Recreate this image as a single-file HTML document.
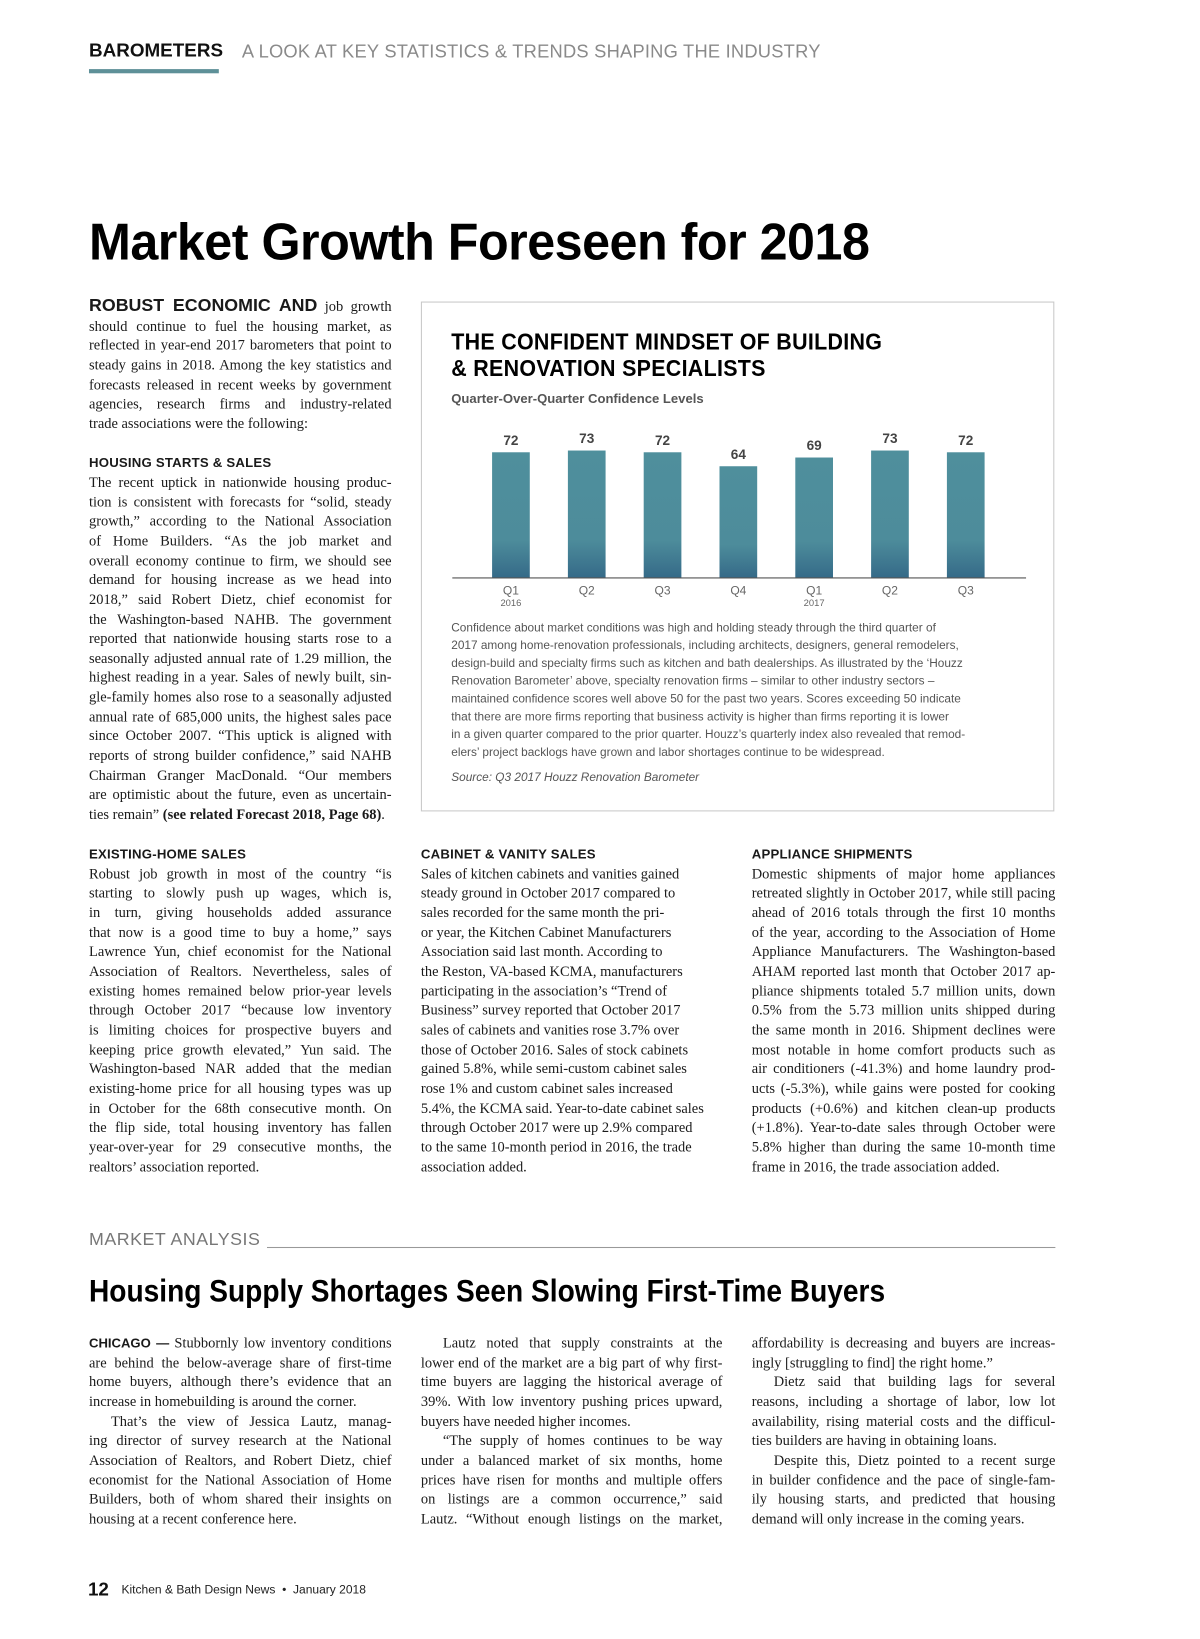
<!DOCTYPE html>
<html><head><meta charset="utf-8"><style>
html,body{margin:0;padding:0;background:#fff;}
body{width:1200px;height:1639px;overflow:hidden;position:relative;}
#page{position:absolute;left:0;top:0;width:1146px;height:1565px;transform:scale(1.047);transform-origin:0 0;}
.abs{position:absolute;white-space:nowrap;}
.col{position:absolute;font-family:"Liberation Serif",serif;font-size:13.8px;line-height:18.65px;color:#1a1a1a;}
.col div{white-space:nowrap;text-align:justify;text-align-last:justify;box-sizing:border-box;}
.col div.l{text-align-last:left;}
.col div.i{padding-left:21px;}
.col div.h{font-family:"Liberation Sans",sans-serif;font-weight:bold;font-size:12.6px;text-align-last:left;letter-spacing:0.2px;}
.sb{font-family:"Liberation Sans",sans-serif;font-weight:bold;}
.cap{position:absolute;left:431px;top:592px;font-family:"Liberation Sans",sans-serif;font-size:11.3px;line-height:17px;color:#555;}
.cap div{white-space:nowrap;}
</style></head><body>
<div id="page">

<div class="abs" style="left:85px;top:38px;font-family:'Liberation Sans',sans-serif;font-weight:bold;font-size:18px;color:#111;">BAROMETERS</div>
<div class="abs" style="left:85px;top:66px;width:124px;height:4px;background:#5e9098;"></div>
<div class="abs" style="left:231px;top:39px;font-family:'Liberation Sans',sans-serif;font-size:17.5px;color:#8a8a8a;letter-spacing:0.2px;">A LOOK AT KEY STATISTICS &amp; TRENDS SHAPING THE INDUSTRY</div>

<div class="abs" style="left:85px;top:202px;font-family:'Liberation Sans',sans-serif;font-weight:bold;font-size:50px;color:#000;transform:scaleX(0.96);transform-origin:0 0;letter-spacing:-0.5px;">Market Growth Foreseen for 2018</div>

<div class="col" style="left:85px;top:283px;width:289px;">
<div><span class="sb" style="font-size:17px;">ROBUST ECONOMIC AND</span> job growth</div>
<div>should continue to fuel the housing market, as</div>
<div>reflected in year-end 2017 barometers that point to</div>
<div>steady gains in 2018. Among the key statistics and</div>
<div>forecasts released in recent weeks by government</div>
<div>agencies, research firms and industry-related</div>
<div class="l">trade associations were the following:</div>
<div>&nbsp;</div>
<div class="h">HOUSING STARTS &amp; SALES</div>
<div>The recent uptick in nationwide housing produc-</div>
<div>tion is consistent with forecasts for “solid, steady</div>
<div>growth,” according to the National Association</div>
<div>of Home Builders. “As the job market and</div>
<div>overall economy continue to firm, we should see</div>
<div>demand for housing increase as we head into</div>
<div>2018,” said Robert Dietz, chief economist for</div>
<div>the Washington-based NAHB. The government</div>
<div>reported that nationwide housing starts rose to a</div>
<div>seasonally adjusted annual rate of 1.29 million, the</div>
<div>highest reading in a year. Sales of newly built, sin-</div>
<div>gle-family homes also rose to a seasonally adjusted</div>
<div>annual rate of 685,000 units, the highest sales pace</div>
<div>since October 2007. “This uptick is aligned with</div>
<div>reports of strong builder confidence,” said NAHB</div>
<div>Chairman Granger MacDonald. “Our members</div>
<div>are optimistic about the future, even as uncertain-</div>
<div class="l">ties remain” <b>(see related Forecast 2018, Page 68)</b>.</div>
</div>

<div class="abs" style="left:402px;top:288px;width:603px;height:485px;border:1.5px solid #c8c8c8;"></div>
<div class="abs" style="left:431px;top:314px;font-family:'Liberation Sans',sans-serif;font-weight:bold;font-size:22px;line-height:25px;color:#000;transform:scaleX(0.93);transform-origin:0 0;letter-spacing:0.3px;">THE CONFIDENT MINDSET OF BUILDING<br>&amp; RENOVATION SPECIALISTS</div>
<div class="abs" style="left:431px;top:374px;font-family:'Liberation Sans',sans-serif;font-weight:bold;font-size:12.5px;color:#555;">Quarter-Over-Quarter Confidence Levels</div>

<svg id="chart" style="position:absolute;left:0;top:0;" width="1146" height="600">
<defs><linearGradient id="bg" x1="0" y1="0" x2="0" y2="1">
<stop offset="0" stop-color="#4f8f9c"/><stop offset="0.7" stop-color="#4d8c9b"/><stop offset="1" stop-color="#356a88"/></linearGradient></defs>
</svg>

<div class="cap">
<div>Confidence about market conditions was high and holding steady through the third quarter of</div>
<div>2017 among home-renovation professionals, including architects, designers, general remodelers,</div>
<div>design-build and specialty firms such as kitchen and bath dealerships. As illustrated by the ‘Houzz</div>
<div>Renovation Barometer’ above, specialty renovation firms – similar to other industry sectors –</div>
<div>maintained confidence scores well above 50 for the past two years. Scores exceeding 50 indicate</div>
<div>that there are more firms reporting that business activity is higher than firms reporting it is lower</div>
<div>in a given quarter compared to the prior quarter. Houzz’s quarterly index also revealed that remod-</div>
<div>elers’ project backlogs have grown and labor shortages continue to be widespread.</div>
<div style="font-style:italic;margin-top:7px;">Source: Q3 2017 Houzz Renovation Barometer</div>
</div>

<div class="col" style="left:85px;top:807px;width:289px;">
<div class="h">EXISTING-HOME SALES</div>
<div>Robust job growth in most of the country “is</div>
<div>starting to slowly push up wages, which is,</div>
<div>in turn, giving households added assurance</div>
<div>that now is a good time to buy a home,” says</div>
<div>Lawrence Yun, chief economist for the National</div>
<div>Association of Realtors. Nevertheless, sales of</div>
<div>existing homes remained below prior-year levels</div>
<div>through October 2017 “because low inventory</div>
<div>is limiting choices for prospective buyers and</div>
<div>keeping price growth elevated,” Yun said. The</div>
<div>Washington-based NAR added that the median</div>
<div>existing-home price for all housing types was up</div>
<div>in October for the 68th consecutive month. On</div>
<div>the flip side, total housing inventory has fallen</div>
<div>year-over-year for 29 consecutive months, the</div>
<div class="l">realtors’ association reported.</div>
</div>

<div class="col" style="left:402px;top:807px;width:288px;">
<div class="h">CABINET &amp; VANITY SALES</div>
<div class="l">Sales of kitchen cabinets and vanities gained</div>
<div class="l">steady ground in October 2017 compared to</div>
<div class="l">sales recorded for the same month the pri-</div>
<div class="l">or year, the Kitchen Cabinet Manufacturers</div>
<div class="l">Association said last month. According to</div>
<div class="l">the Reston, VA-based KCMA, manufacturers</div>
<div class="l">participating in the association’s “Trend of</div>
<div class="l">Business” survey reported that October 2017</div>
<div class="l">sales of cabinets and vanities rose 3.7% over</div>
<div class="l">those of October 2016. Sales of stock cabinets</div>
<div class="l">gained 5.8%, while semi-custom cabinet sales</div>
<div class="l">rose 1% and custom cabinet sales increased</div>
<div class="l">5.4%, the KCMA said. Year-to-date cabinet sales</div>
<div class="l">through October 2017 were up 2.9% compared</div>
<div class="l">to the same 10-month period in 2016, the trade</div>
<div class="l">association added.</div>
</div>

<div class="col" style="left:718px;top:807px;width:290px;">
<div class="h">APPLIANCE SHIPMENTS</div>
<div>Domestic shipments of major home appliances</div>
<div>retreated slightly in October 2017, while still pacing</div>
<div>ahead of 2016 totals through the first 10 months</div>
<div>of the year, according to the Association of Home</div>
<div>Appliance Manufacturers. The Washington-based</div>
<div>AHAM reported last month that October 2017 ap-</div>
<div>pliance shipments totaled 5.7 million units, down</div>
<div>0.5% from the 5.73 million units shipped during</div>
<div>the same month in 2016. Shipment declines were</div>
<div>most notable in home comfort products such as</div>
<div>air conditioners (-41.3%) and home laundry prod-</div>
<div>ucts (-5.3%), while gains were posted for cooking</div>
<div>products (+0.6%) and kitchen clean-up products</div>
<div>(+1.8%). Year-to-date sales through October were</div>
<div>5.8% higher than during the same 10-month time</div>
<div class="l">frame in 2016, the trade association added.</div>
</div>

<div class="abs" style="left:85px;top:1174px;font-family:'Liberation Sans',sans-serif;font-size:17px;color:#777;letter-spacing:0.5px;">MARKET ANALYSIS</div>
<div class="abs" style="left:255px;top:1191px;width:753px;height:1px;background:#999;"></div>
<div class="abs" style="left:85px;top:1217px;font-family:'Liberation Sans',sans-serif;font-weight:bold;font-size:30px;color:#000;transform:scaleX(0.895);transform-origin:0 0;">Housing Supply Shortages Seen Slowing First-Time Buyers</div>

<div class="col" style="left:85px;top:1274px;width:289px;">
<div><span class="sb" style="font-size:12.5px;">CHICAGO —</span> Stubbornly low inventory conditions</div>
<div>are behind the below-average share of first-time</div>
<div>home buyers, although there’s evidence that an</div>
<div class="l">increase in homebuilding is around the corner.</div>
<div class="i">That’s the view of Jessica Lautz, manag-</div>
<div>ing director of survey research at the National</div>
<div>Association of Realtors, and Robert Dietz, chief</div>
<div>economist for the National Association of Home</div>
<div>Builders, both of whom shared their insights on</div>
<div class="l">housing at a recent conference here.</div>
</div>

<div class="col" style="left:402px;top:1274px;width:288px;">
<div class="i">Lautz noted that supply constraints at the</div>
<div>lower end of the market are a big part of why first-</div>
<div>time buyers are lagging the historical average of</div>
<div>39%. With low inventory pushing prices upward,</div>
<div class="l">buyers have needed higher incomes.</div>
<div class="i">“The supply of homes continues to be way</div>
<div>under a balanced market of six months, home</div>
<div>prices have risen for months and multiple offers</div>
<div>on listings are a common occurrence,” said</div>
<div>Lautz. “Without enough listings on the market,</div>
</div>

<div class="col" style="left:718px;top:1274px;width:290px;">
<div>affordability is decreasing and buyers are increas-</div>
<div class="l">ingly [struggling to find] the right home.”</div>
<div class="i">Dietz said that building lags for several</div>
<div>reasons, including a shortage of labor, low lot</div>
<div>availability, rising material costs and the difficul-</div>
<div class="l">ties builders are having in obtaining loans.</div>
<div class="i">Despite this, Dietz pointed to a recent surge</div>
<div>in builder confidence and the pace of single-fam-</div>
<div>ily housing starts, and predicted that housing</div>
<div class="l">demand will only increase in the coming years.</div>
</div>

<div class="abs" style="left:84px;top:1508px;font-family:'Liberation Sans',sans-serif;font-weight:bold;font-size:18px;color:#111;">12</div>
<div class="abs" style="left:116px;top:1513px;font-family:'Liberation Sans',sans-serif;font-size:11.5px;color:#222;">Kitchen &amp; Bath Design News &nbsp;•&nbsp; January 2018</div>
</div>

<script>
const quarters = ["Q1","Q2","Q3","Q4","Q1","Q2","Q3"];
const years = ["2016","","","","2017","",""];
const confidence = [72,73,72,64,69,73,72];

const svg = document.getElementById('chart');
const NS = 'http://www.w3.org/2000/svg';
const plotLeft = 432, plotRight = 980, baseY = 552, pxPerUnit = 1.667;
const firstCenter = 488, step = 72.4, barW = 36;
function xScale(i){ return firstCenter + i*step; }
function yScale(v){ return baseY - v*pxPerUnit; }

confidence.forEach((v,i)=>{
  const r = document.createElementNS(NS,'rect');
  r.setAttribute('x', xScale(i)-barW/2);
  r.setAttribute('y', yScale(v));
  r.setAttribute('width', barW);
  r.setAttribute('height', baseY - yScale(v));
  r.setAttribute('fill','url(#bg)');
  
  
  svg.appendChild(r);
  const t = document.createElementNS(NS,'text');
  t.setAttribute('x', xScale(i));
  t.setAttribute('y', yScale(v)-7);
  t.setAttribute('text-anchor','middle');
  t.setAttribute('font-family','Liberation Sans, sans-serif');
  t.setAttribute('font-size','13');
  t.setAttribute('font-weight','bold');
  t.setAttribute('fill','#444');
  t.textContent = v;
  
  
  svg.appendChild(t);
  const q = document.createElementNS(NS,'text');
  q.setAttribute('x', xScale(i));
  q.setAttribute('y', 568);
  q.setAttribute('text-anchor','middle');
  q.setAttribute('font-family','Liberation Sans, sans-serif');
  q.setAttribute('font-size','11.5');
  q.setAttribute('fill','#666');
  q.textContent = quarters[i];
  
  
  svg.appendChild(q);
  if (years[i]) {
    const y = document.createElementNS(NS,'text');
    y.setAttribute('x', xScale(i));
    y.setAttribute('y', 579);
    y.setAttribute('text-anchor','middle');
    y.setAttribute('font-family','Liberation Sans, sans-serif');
    y.setAttribute('font-size','9');
    y.setAttribute('fill','#666');
    y.textContent = years[i];
    
    
    svg.appendChild(y);
  }
});
const axis = document.createElementNS(NS,'line');
axis.setAttribute('x1', plotLeft); axis.setAttribute('x2', plotRight);
axis.setAttribute('y1', baseY); axis.setAttribute('y2', baseY);
axis.setAttribute('stroke','#555'); axis.setAttribute('stroke-width','1');


svg.appendChild(axis);
</script>
</body></html>
